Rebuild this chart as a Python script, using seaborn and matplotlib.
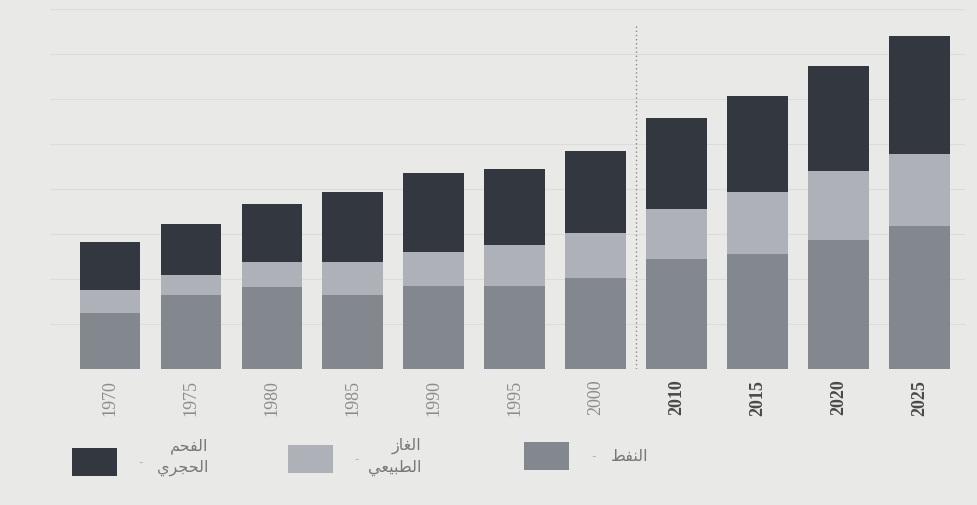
import matplotlib
matplotlib.use("Agg")
import matplotlib.pyplot as plt
from matplotlib.patches import Rectangle
import numpy as np
import pandas as pd
import seaborn as sns

# World fossil-fuel consumption (Mtoe), historic and projected
years = ["1970", "1975", "1980", "1985", "1990", "1995", "2000",
         "2010", "2015", "2020", "2025"]
oil = [2500, 3300, 3650, 3300, 3700, 3700, 4050, 4900, 5100, 5750, 6350]
gas = [1000, 900, 1100, 1450, 1500, 1800, 2000, 2200, 2750, 3050, 3200]
coal = [2150, 2250, 2600, 3100, 3500, 3400, 3650, 4050, 4300, 4650, 5250]

# Legend labels (Arabic, written in joined presentation forms)
label_coal = "\uFEE2\uFEA4\uFED4\uFEDF\uFE8D\n\uFEF1\uFEAE\uFEA0\uFEA4\uFEDF\uFE8D"
label_gas = "\uFEAF\uFE8E\uFED0\uFEDF\uFE8D\n\uFEF2\uFECC\uFEF4\uFE92\uFEC4\uFEDF\uFE8D"
label_oil = "\uFEC2\uFED4\uFEE8\uFEDF\uFE8D"

c_coal = "#33373f"
c_gas = "#aeb2b8"
c_oil = "#83878e"
bg = "#e9e9e7"

df = pd.DataFrame({"year": years, "oil": oil, "gas": gas, "coal": coal})
df["oil_gas"] = df["oil"] + df["gas"]
df["total"] = df["oil_gas"] + df["coal"]

sns.set_theme(style="white")
plt.rcParams["font.family"] = ["DejaVu Sans"]

W, H = 977, 506
fig = plt.figure(figsize=(W / 100, H / 100), dpi=100, facecolor=bg)

# axes geometry in pixels
x0, x1 = 50, 965
y_base, y_top = 370, 10
ax = fig.add_axes([x0 / W, (H - y_base) / H, (x1 - x0) / W, (y_base - y_top) / H])
ax.set_facecolor(bg)

bw = 0.75
# stacked layers drawn from the top segment down
sns.barplot(data=df, x="year", y="total", order=years, color=c_coal,
            saturation=1, width=bw, linewidth=0, ax=ax, zorder=2)
sns.barplot(data=df, x="year", y="oil_gas", order=years, color=c_gas,
            saturation=1, width=bw, linewidth=0, ax=ax, zorder=2)
sns.barplot(data=df, x="year", y="oil", order=years, color=c_oil,
            saturation=1, width=bw, linewidth=0, ax=ax, zorder=2)

ax.set_xlim(-0.74, 10.56)
ax.set_ylim(0, 16000)
ax.set_yticks(np.arange(0, 16001, 2000))
ax.yaxis.grid(True, color="#dcdcda", linewidth=0.8, zorder=0)
ax.set_axisbelow(True)
ax.tick_params(axis="y", left=False, labelleft=False)
ax.set_xlabel("")
ax.set_ylabel("")
for s in ax.spines.values():
    s.set_visible(False)

# divider between historic and projected years
ax.plot([6.5, 6.5], [0, 15300], color="#8a8a8a", linestyle=(0, (1, 2)),
        linewidth=1.0, zorder=1)

ax.set_xticks(range(len(years)))
ax.set_xticklabels(years, rotation=90, fontfamily="Liberation Serif",
                   fontsize=13)
ax.tick_params(axis="x", length=0, pad=7)
for i, t in enumerate(ax.get_xticklabels()):
    if i >= 7:
        t.set_color("#4a4a4a")
        t.set_fontweight("bold")
    else:
        t.set_color("#8c8c8c")

# legend: swatch, small dash, label
def px(x, y):
    return x / W, 1 - y / H

items = [
    (72, 449, c_coal, 141, label_coal, 183, 457),
    (288, 446, c_gas, 357, label_gas, 395, 457),
    (524, 443, c_oil, 594, label_oil, 630, 457),
]
for bx, by, col, dx, lab, tx, ty in items:
    rx, ry = px(bx, by + 28)
    fig.add_artist(Rectangle((rx, ry), 45 / W, 28 / H, transform=fig.transFigure,
                             facecolor=col, edgecolor="none"))
    fig.text(*px(dx, by + 14), "-", color="#b5b5b5", fontsize=9,
             ha="center", va="center")
    fig.text(*px(tx, ty), lab, color="#787878", fontsize=11.5,
             ha="center", va="center", multialignment="right",
             linespacing=1.5)

fig.savefig("out.png", dpi=100, facecolor=bg)
